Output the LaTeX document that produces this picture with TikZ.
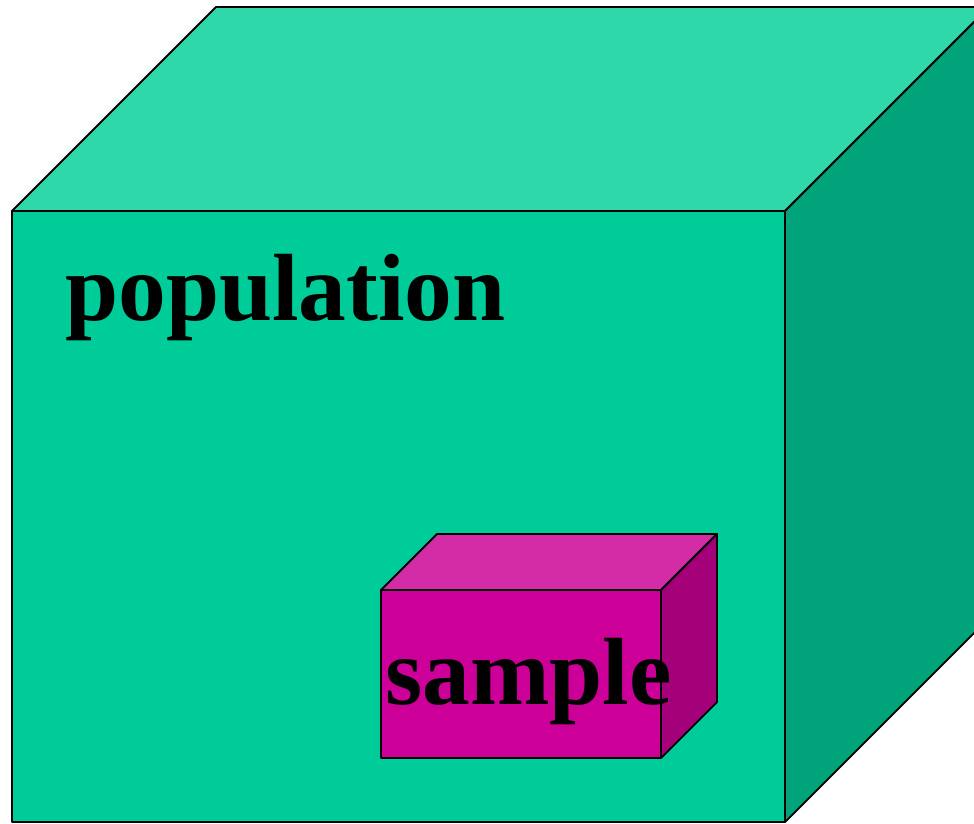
\documentclass[tikz,border=0pt]{standalone}
\usepackage{fontspec}
\setmainfont{Liberation Serif}
\definecolor{popfront}{HTML}{00CC99}
\definecolor{poptop}{HTML}{2ED8AA}
\definecolor{popside}{HTML}{00A37A}
\definecolor{smpfront}{HTML}{CC0099}
\definecolor{smptop}{HTML}{D42BA6}
\definecolor{smpside}{HTML}{A3007A}
\begin{document}
\begin{tikzpicture}[x=1pt,y=-1pt,line join=round,
    face/.style={draw=black,line width=1.8pt},
    bigword/.style={font=\fontsize{95.5}{110}\selectfont\bfseries,inner sep=0pt,anchor=base west}]
            \clip (0,0) rectangle (974,823);
            % population cube
            \coordinate (pa) at (12,211);
            \coordinate (pb) at (785,211);
            \coordinate (pc) at (785,822);
            \coordinate (pd) at (12,822);
            \coordinate (pe) at (216,7);
            \coordinate (pf) at (989,7);
            \coordinate (pg) at (989,618);
            \filldraw[face,fill=poptop] (pa) -- (pe) -- (pf) -- (pb) -- cycle;
            \filldraw[face,fill=popside] (pb) -- (pf) -- (pg) -- (pc) -- cycle;
            \filldraw[face,fill=popfront] (pa) -- (pb) -- (pc) -- (pd) -- cycle;
            \node[bigword] (poplabel) at (65,320) {population};
            % sample box
            \coordinate (sa) at (381,590);
            \coordinate (sb) at (661,590);
            \coordinate (sc) at (661,758);
            \coordinate (sd) at (381,758);
            \coordinate (se) at (437,534);
            \coordinate (sf) at (717,534);
            \coordinate (sg) at (717,702);
            \filldraw[face,fill=smptop] (sa) -- (se) -- (sf) -- (sb) -- cycle;
            \filldraw[face,fill=smpside] (sb) -- (sf) -- (sg) -- (sc) -- cycle;
            \filldraw[face,fill=smpfront] (sa) -- (sb) -- (sc) -- (sd) -- cycle;
            \node[bigword] (smplabel) at (385,704) {sample};
        \end{tikzpicture}
\end{document}
